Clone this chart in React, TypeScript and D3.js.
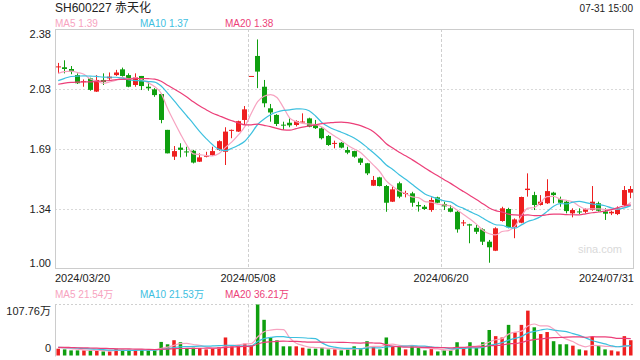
import React from 'react';
import * as d3 from 'd3';

const title = 'SH600227 赤天化';
const timeLabel = '07-31 15:00';
const priceMaLabels = ['MA5 1.39', 'MA10 1.37', 'MA20 1.38'];
const volMaLabels = ['MA5 21.54万', 'MA10 21.53万', 'MA20 36.21万'];
const maColors = ['#f7a3c0', '#3dc0df', '#ec3f79'];
const maPeriods = [5, 10, 20];
const dateTicks = ['2024/03/20', '2024/05/08', '2024/06/20', '2024/07/31'];
const dateTickIdx = [0, 30, 60, 89];
const priceTicks = [2.38, 2.035, 1.69, 1.345, 1.0];
const priceTickLabels = ['2.38', '2.03', '1.69', '1.34', '1.00'];
const volTickLabels = ['107.76万', '0'];

const prevCloses = [2.02, 2.05, 2.03, 2.06, 2.04, 2.01, 2.05, 2.04, 2.03, 2.08, 2.02, 2.03, 2.05, 2.06, 2.05, 2.1, 2.12, 2.11, 2.13];
const prevVolumes = [18, 16, 20, 15, 17, 19, 16, 18, 21, 17, 15, 18, 16, 19, 17, 20, 16, 18, 17];

const opens = [2.16, 2.16, 2.15, 2.115, 2.075, 2.096, 2.02, 2.087, 2.096, 2.115,
  2.148, 2.115, 2.058, 2.11, 2.048, 2.033, 2.006, 1.8, 1.646, 1.698,
  1.676, 1.68, 1.617, 1.648, 1.655, 1.684, 1.674, 1.795, 1.79, 1.857,
  2.11, 2.225, 2.048, 1.924, 1.886, 1.83, 1.841, 1.828, 1.845, 1.866,
  1.828, 1.809, 1.765, 1.72, 1.726, 1.684, 1.678, 1.636, 1.608, 1.479,
  1.527, 1.477, 1.387, 1.493, 1.433, 1.435, 1.368, 1.358, 1.339, 1.412,
  1.374, 1.349, 1.329, 1.265, 1.257, 1.237, 1.228, 1.157, 1.105, 1.276,
  1.345, 1.24, 1.266, 1.454, 1.425, 1.368, 1.378, 1.439, 1.401, 1.387,
  1.32, 1.331, 1.329, 1.339, 1.378, 1.331, 1.32, 1.316, 1.368, 1.439];
const highs = [2.185, 2.2, 2.167, 2.125, 2.09, 2.1, 2.115, 2.125, 2.13, 2.145,
  2.158, 2.125, 2.125, 2.11, 2.077, 2.04, 2.01, 1.8, 1.707, 1.723,
  1.703, 1.685, 1.665, 1.674, 1.703, 1.74, 1.815, 1.802, 1.853, 1.937,
  2.11, 2.32, 2.087, 1.949, 1.89, 1.847, 1.866, 1.855, 1.895, 1.87,
  1.857, 1.815, 1.77, 1.738, 1.73, 1.703, 1.68, 1.64, 1.61, 1.535,
  1.53, 1.483, 1.473, 1.502, 1.45, 1.444, 1.387, 1.368, 1.412, 1.416,
  1.387, 1.368, 1.335, 1.282, 1.26, 1.253, 1.234, 1.167, 1.24, 1.358,
  1.352, 1.291, 1.416, 1.55, 1.444, 1.425, 1.516, 1.444, 1.416, 1.397,
  1.349, 1.349, 1.349, 1.477, 1.387, 1.349, 1.335, 1.36, 1.477, 1.477];
const lows = [2.125, 2.125, 2.12, 2.064, 2.048, 2.025, 2.018, 2.058, 2.087, 2.11,
  2.106, 2.045, 2.048, 2.029, 2.025, 1.99, 1.838, 1.665, 1.627, 1.642,
  1.646, 1.607, 1.615, 1.642, 1.65, 1.68, 1.598, 1.752, 1.788, 1.828,
  2.11, 2.04, 1.93, 1.847, 1.822, 1.8, 1.815, 1.82, 1.843, 1.815,
  1.805, 1.745, 1.708, 1.694, 1.694, 1.66, 1.64, 1.598, 1.54, 1.477,
  1.475, 1.329, 1.385, 1.407, 1.412, 1.358, 1.33, 1.34, 1.329, 1.378,
  1.339, 1.326, 1.209, 1.247, 1.148, 1.201, 1.138, 1.036, 1.103, 1.272,
  1.234, 1.177, 1.263, 1.416, 1.339, 1.365, 1.374, 1.378, 1.358, 1.32,
  1.297, 1.316, 1.32, 1.335, 1.33, 1.282, 1.31, 1.31, 1.358, 1.407];
const closes = [2.165, 2.15, 2.135, 2.068, 2.08, 2.03, 2.087, 2.075, 2.106, 2.13,
  2.11, 2.048, 2.102, 2.052, 2.039, 2.0, 1.857, 1.665, 1.678, 1.685,
  1.672, 1.612, 1.642, 1.651, 1.678, 1.735, 1.79, 1.8, 1.85, 1.918,
  2.11, 2.135, 1.953, 1.9, 1.834, 1.826, 1.826, 1.851, 1.848, 1.818,
  1.81, 1.752, 1.713, 1.725, 1.698, 1.669, 1.646, 1.611, 1.55, 1.512,
  1.477, 1.381, 1.458, 1.416, 1.437, 1.381, 1.36, 1.345, 1.397, 1.381,
  1.36, 1.329, 1.228, 1.268, 1.25, 1.214, 1.157, 1.125, 1.234, 1.349,
  1.24, 1.285, 1.414, 1.462, 1.368, 1.387, 1.448, 1.425, 1.381, 1.333,
  1.339, 1.327, 1.343, 1.387, 1.335, 1.318, 1.329, 1.349, 1.454, 1.46];
const volumes = [14.4, 12.9, 10.8, 10.8, 10.8, 10.8, 10.8, 8.6, 8.6, 14.4,
  12.2, 12.2, 10.8, 12.2, 10.8, 12.2, 28.7, 23.7, 32.3, 28,
  15.8, 16.5, 15.8, 12.9, 15.8, 17.9, 38.1, 19.4, 21.5, 25,
  21.5, 107.76, 75.4, 39, 32, 19.4, 19.4, 19.4, 16.5, 14.4,
  14.4, 16.5, 12.9, 12.9, 10.8, 12.9, 19.4, 14.4, 30.2, 19.4,
  12.9, 38.1, 19.4, 17.9, 12.9, 19.4, 15.8, 10.8, 14.4, 8.6,
  10.8, 10.8, 28, 16.5, 28, 15.8, 28, 53.9, 40.9, 38.1,
  64.7, 48.8, 64.7, 94.8, 59.6, 45.3, 49.6, 30.2, 23.7, 23.7,
  20.8, 12.9, 10.8, 39.5, 20.8, 12.9, 10.8, 8.6, 40.9, 32.3];

const RED = '#ee1f1f';
const GREEN = '#0f9f0f';
const FONT = "'Liberation Sans', Arial, 'Noto Sans CJK SC', sans-serif";

function movingAvg(prev: number[], vals: number[], n: number): number[] {
  const all = prev.concat(vals);
  const off = prev.length;
  return vals.map((_, i) => d3.mean(all.slice(off + i - n + 1, off + i + 1)) as number);
}

export default function App() {
  const N = closes.length;
  const L = 55, R = 634, T = 29, B = 269;
  const VT = 304.5, VB = 355.5;
  const x = d3.scaleBand<number>().domain(d3.range(N)).range([L, R]);
  const bw = x.bandwidth();
  const cx = (i: number) => (x(i) as number) + bw / 2;
  const y = d3.scaleLinear().domain([1.0, 2.38]).range([B, T]);
  const yv = d3.scaleLinear().domain([0, 107.76]).range([VB, VT]);

  const isUp = (i: number) =>
    closes[i] > opens[i] || (closes[i] === opens[i] && (i === 0 || closes[i] >= closes[i - 1]));

  const priceLine = d3.line<number>().x((_, i) => cx(i)).y((d) => y(d)).curve(d3.curveMonotoneX);
  const volLine = d3.line<number>().x((_, i) => cx(i)).y((d) => yv(d)).curve(d3.curveMonotoneX);
  const priceMAs = maPeriods.map((n) => movingAvg(prevCloses, closes, n));
  const volMAs = maPeriods.map((n) => movingAvg(prevVolumes, volumes, n));
  const legendX = [55, 140, 225];

  return (
    <svg width={640} height={360} style={{ position: 'absolute', left: 0, top: 0, display: 'block', background: '#fff' }}
      fontFamily={FONT}>
      <defs>
        <clipPath id="plotClip"><rect x={L} y={T} width={R - L} height={B - T} /></clipPath>
        <clipPath id="volClip"><rect x={L} y={VT - 2} width={R - L} height={VB - VT + 4} /></clipPath>
      </defs>
      <rect x={0} y={0} width={640} height={360} fill="#fff" />
      <text x={55} y={11.7} fontSize={12} fill="#222">{title}</text>
      <text x={633} y={11.5} fontSize={10} fill="#222" textAnchor="end">{timeLabel}</text>
      {priceMaLabels.map((t, k) => (
        <text key={t} x={legendX[k]} y={27.3} fontSize={10} fill={maColors[k]}>{t}</text>
      ))}

      {priceTicks.slice(1, -1).map((p) => (
        <line key={p} x1={L} x2={R} y1={Math.round(y(p)) + 0.5} y2={Math.round(y(p)) + 0.5}
          stroke="#d9d9d9" strokeDasharray="2,2" />
      ))}
      {dateTickIdx.slice(1, 3).map((i) => {
        const gx = Math.round(x(i) as number) + 0.5;
        return (
          <g key={i}>
            <line x1={gx} x2={gx} y1={T} y2={B} stroke="#cfcfcf" strokeDasharray="3,2" />
            <line x1={gx} x2={gx} y1={VT} y2={VB} stroke="#cfcfcf" strokeDasharray="3,2" />
          </g>
        );
      })}
      <rect x={L + 0.5} y={T + 0.5} width={R - L - 1} height={B - T - 1} fill="none" stroke="#cccccc" />

      {priceTicks.map((p, k) => {
        let by = y(p) + 3.8;
        if (k === 0) by = T + 8.7;
        if (k === priceTicks.length - 1) by = B - 2;
        return <text key={p} x={51} y={by} fontSize={11} fill="#222" textAnchor="end">{priceTickLabels[k]}</text>;
      })}

      <text x={622} y={253} fontSize={11} fill="#d9d9d9" textAnchor="end">sina.com</text>

      {closes.map((c, i) => {
        const o = opens[i];
        const col = isUp(i) ? RED : GREEN;
        const left = Math.round(cx(i) - 2.5);
        const mid = left + 2.5;
        const top = y(Math.max(o, c));
        const h = Math.max(1, Math.abs(y(o) - y(c)));
        return (
          <g key={i}>
            <line x1={mid} x2={mid} y1={y(highs[i])} y2={y(lows[i])} stroke={col} strokeWidth={1} />
            <rect x={left} y={top} width={5} height={h} fill={col} />
          </g>
        );
      })}

      <g clipPath="url(#plotClip)">
        {priceMAs.map((m, k) => (
          <path key={k} d={priceLine(m) as string} fill="none" stroke={maColors[k]} strokeWidth={1.2} />
        ))}
      </g>

      {dateTicks.map((t, k) => {
        const i = dateTickIdx[k];
        let anchor: 'start' | 'middle' | 'end' = 'middle';
        let tx = x(i) as number;
        if (k === 0) { anchor = 'start'; tx = L; }
        if (k === dateTicks.length - 1) { anchor = 'end'; tx = R; }
        return <text key={t} x={tx} y={281.7} fontSize={11} fill="#222" textAnchor={anchor}>{t}</text>;
      })}

      {volMaLabels.map((t, k) => (
        <text key={t} x={legendX[k]} y={297.6} fontSize={10} fill={maColors[k]}>{t}</text>
      ))}
      <line x1={L} x2={R} y1={VT} y2={VT} stroke="#d0d0d0" strokeDasharray="2,2" />
      <line x1={L + 0.5} x2={L + 0.5} y1={VT} y2={VB + 1} stroke="#cccccc" />
      <text x={51} y={315} fontSize={11} fill="#222" textAnchor="end">{volTickLabels[0]}</text>
      <text x={51} y={351.7} fontSize={11} fill="#222" textAnchor="end">{volTickLabels[1]}</text>
      {volumes.map((v, i) => (
        <rect key={i} x={cx(i) - 1.75} y={yv(v)} width={3.5} height={VB - yv(v)} fill={isUp(i) ? RED : GREEN} />
      ))}
      <g clipPath="url(#volClip)">
        {volMAs.map((m, k) => (
          <path key={k} d={volLine(m) as string} fill="none" stroke={maColors[k]} strokeWidth={1.2} />
        ))}
      </g>
    </svg>
  );
}
